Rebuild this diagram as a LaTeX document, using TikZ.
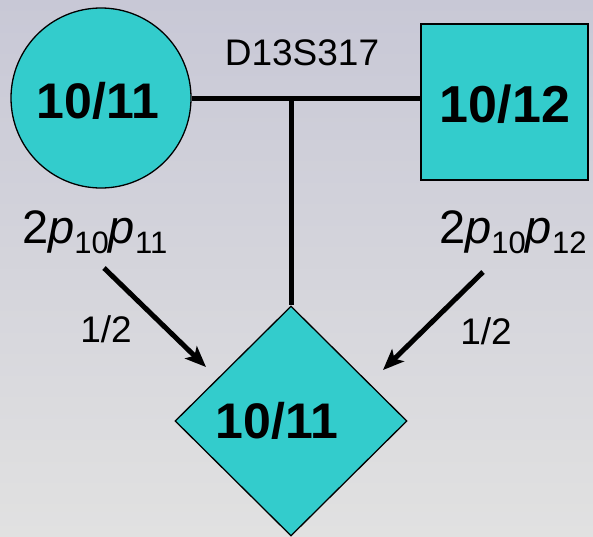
\documentclass[tikz,border=0pt]{standalone}
\usepackage{fontspec}
\setmainfont{Liberation Sans}
\usetikzlibrary{shapes.geometric,arrows.meta}
\definecolor{pedteal}{RGB}{51,204,204}
\definecolor{bgtop}{RGB}{200,200,214}
\definecolor{bgbot}{RGB}{225,225,225}
\newcommand{\fsz}[1]{\fontsize{#1}{#1}\selectfont}
\newcommand{\gfreq}[2]{\fsz{47}2\textit{p}\raisebox{-10pt}{\fsz{31}#1}\textit{p}\raisebox{-10pt}{\fsz{31}#2}}
\begin{document}
\begin{tikzpicture}[x=1pt,y=-1pt,
  ped/.style={fill=pedteal,draw=black,line width=1.3pt,inner sep=0pt},
  geno/.style={inner sep=0pt,anchor=base,font=\bfseries\fsz{50}},
  bond/.style={line width=5pt},
  arr/.style={line width=5pt,-{Stealth[length=21pt,width=17pt,inset=5pt]}},
  lbl/.style={inner sep=0pt,anchor=base}]
\useasboundingbox (0,0) rectangle (593,536);
\shade[top color=bgtop,bottom color=bgbot] (0,0) rectangle (593,536);
% individuals
\node[ped,circle,minimum size=180pt] (mother) at (101,98) {};
\node[ped,rectangle,minimum width=167pt,minimum height=156pt] (father) at (504.5,102) {};
\node[ped,diamond,minimum width=232pt,minimum height=230pt] (child) at (291,421) {};
% genotypes
\node[geno] (gm) at (98,118) {10/11};
\node[geno,font=\bfseries\fsz{52}] (gf) at (505,122) {10/12};
\node[geno] (gc) at (277,438) {10/11};
% marker label
\node[lbl,font=\fsz{37}] (marker) at (302,65.7) {D13S317};
% connectors
\coordinate (mid) at (child.north |- mother.east);
\draw[bond] (mother.east) -- (father.west |- mother.east);
\draw[bond] (mid) -- (child.north);
% frequency labels
\node[lbl,anchor=base west] (fl) at (22,243) {\gfreq{10}{11}};
\node[lbl,anchor=base west] (fr) at (439,243) {\gfreq{10}{12}};
% arrows
\coordinate (a1s) at (104,268);
\coordinate (a1e) at (206,367);
\coordinate (a2s) at (483,272);
\coordinate (a2e) at (383,370);
\draw[arr] (a1s) -- (a1e);
\draw[arr] (a2s) -- (a2e);
\node[lbl,font=\fsz{37}] (h1) at (106,342) {1/2};
\node[lbl,font=\fsz{37}] (h2) at (486,344) {1/2};
\end{tikzpicture}
\end{document}
